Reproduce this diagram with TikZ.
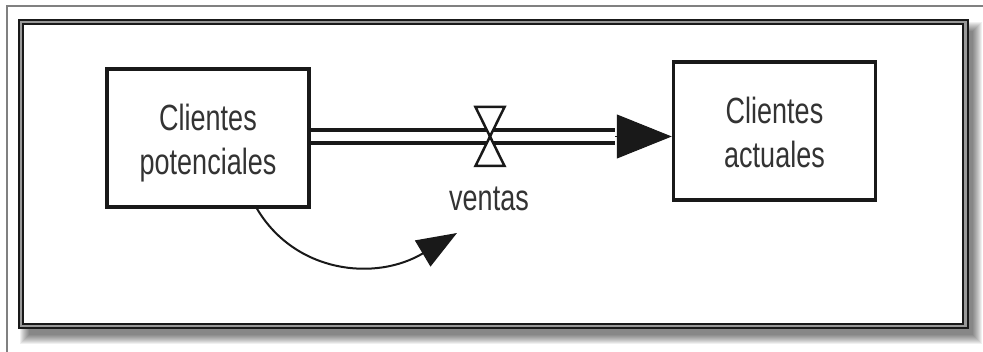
\documentclass[tikz,border=0pt]{standalone}
\usepackage{fontspec}
\setmainfont{Liberation Sans}
\usepackage{graphicx}
\usetikzlibrary{arrows.meta}
\usetikzlibrary{calc}
\usetikzlibrary{positioning}

\newcommand{\tallfont}[1]{\scalebox{1}[1.35]{\begin{tabular}{@{}c@{}}\rule{0pt}{31pt}#1\end{tabular}}}

\begin{document}
\begin{tikzpicture}[x=1pt, y=1pt, line join=miter,
    stock/.style={draw=black!90, line width=3.5pt, minimum width=202pt, minimum height=138pt,
      inner sep=0pt, font=\fontsize{27}{32}\selectfont, text=black!80},
    pipe/.style={draw=black!90, line width=3.5pt, double=white, double distance=9.5pt},
    valvepart/.style={draw=black!90, fill=white, line width=2.5pt},
    flowname/.style={inner sep=0pt, font=\fontsize{27}{32}\selectfont, text=black!80},
    infolink/.style={draw=black!90, line width=2pt, -{Triangle[length=40pt,width=30pt]}}]
    
    \fill[white] (0,0) rectangle (983,352);
    \useasboundingbox (0,0) rectangle (983,352);
    
    % Outer thin border
    \draw[black!50, line width=1.5pt] (7,0) |- (983,346);
    
    % Shadow of the frame
    \foreach \i in {0,...,9}
      \fill[black, opacity=0.06] (20+\i,8+\i) rectangle (982-\i,330-\i);
    
    % Frame with gray band
    \filldraw[fill=black!40, draw=black!90, line width=1.5pt] (19,24) rectangle (968,332);
    \filldraw[fill=white, draw=black!90, line width=1.2pt] (23,28) rectangle (963,328);
    
    % Stocks
    \node[stock] (potenciales) at (208,214) {\tallfont{Clientes\\potenciales}};
    \node[stock] (actuales) at (774.5,221) {\tallfont{Clientes\\actuales}};
    
    % Flow pipe
    \coordinate (valve) at (490,215.5);
    \coordinate (headbase) at (615,215.5);
    \draw[pipe] (potenciales.east |- valve) -- (headbase);
    \draw[draw=black!90, line width=1pt, -{Triangle[length=55pt,width=44pt]}] (headbase) -- (actuales.west |- valve);
    
    % Valve
    \draw[valvepart] ($(valve)+(-14.5,29.5)$) -- ($(valve)+(14.5,29.5)$) -- (valve) -- cycle;
    \draw[valvepart] ($(valve)+(-14.5,-29.5)$) -- ($(valve)+(14.5,-29.5)$) -- (valve) -- cycle;
    \node[flowname, anchor=base] (ventas) at (489,141) {\scalebox{1}[1.35]{ventas}};
    
    % Information link
    \coordinate (infotip) at (457,119);
    \draw[infolink] ($(potenciales.south)+(49,0)$) .. controls +(38,-64) and +(-82,-49) .. (infotip);
\end{tikzpicture}
\end{document}
